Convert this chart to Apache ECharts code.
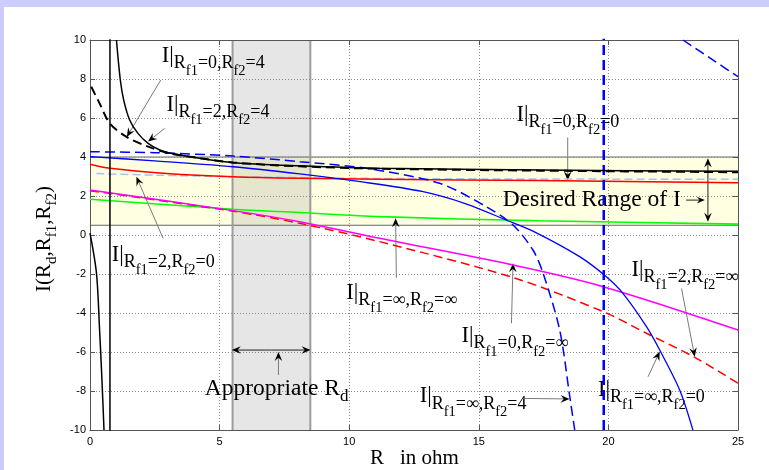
<!DOCTYPE html>
<html><head><meta charset="utf-8">
<script src="https://cdn.jsdelivr.net/npm/echarts@6/dist/echarts.min.js"></script>
<style>html,body{margin:0;padding:0;background:#fff;}#c{width:769px;height:470px;}</style>
</head><body><div id="c"></div>
<script>
// ---------------- data ----------------
const xTickValues = [0, 5, 10, 15, 20, 25];
const yTickValues = [-10, -8, -6, -4, -2, 0, 2, 4, 6, 8, 10];
const desiredRangeI = [0.5, 4];
const appropriateRd = [5.5, 8.5];

// I | Rf1=2, Rf2=4 (black solid) - three pieces around the pole
const iRf1_2_Rf2_4_left = [[0,0.1],[0.25,-1.96],[0.37,-4.87],[0.46,-7.4],[0.54,-10]];
const iRf1_2_Rf2_4_pole = [[0.77,-60],[0.77,60]];
const iRf1_2_Rf2_4_right = [[1.02,10],[1.17,7.95],[1.3,6.92],[1.53,5.9],[1.85,5.21],[2.24,4.7],[2.69,4.36],[3.07,4.2],[4.23,3.93],[5.52,3.71],[8.09,3.55],[11.17,3.42],[17.35,3.33],[25,3.27]];
// I | Rf1=0, Rf2=4 (black dashed)
const iRf1_0_Rf2_4 = [[0.05,7.6],[0.37,6.75],[0.76,5.73],[1.4,5.04],[2.24,4.53],[3.07,4.19],[4.2,3.95],[5.52,3.72],[8.09,3.52],[11.17,3.4],[17.35,3.3],[25,3.22]];
// I | Rf1=inf, Rf2=4 (blue dashed) - pieces around the pole
const iRf1_inf_Rf2_4_left = [[0,4.27],[2.5,4.22],[5.52,4.05],[8.09,3.76],[10.66,3.42],[13.49,2.65],[15.29,1.45],[16.32,0.51],[17.09,-0.77],[17.48,-1.96],[18.12,-4.87],[18.51,-8.29],[18.7,-10]];
const iRf1_inf_Rf2_4_pole = [[19.82,-60],[19.82,60]];
const iRf1_inf_Rf2_4_right = [[22.88,10],[24.04,8.97],[25,8.12]];
// I | Rf1=inf, Rf2=0 (blue solid)
const iRf1_inf_Rf2_0 = [[0,4.02],[2.5,3.8],[5.52,3.5],[8.09,3.13],[10.5,2.72],[12.85,2.22],[14.5,1.6],[16.06,0.77],[17.09,0.2],[18.89,-1.11],[19.92,-2.14],[20.56,-2.99],[21.47,-4.7],[21.98,-5.9],[22.75,-7.95],[23.26,-10]];
// I | Rf1=2, Rf2=0 (red solid)
const iRf1_2_Rf2_0 = [[0,3.63],[0.76,3.42],[2.95,3.16],[5.52,2.99],[8.09,2.91],[11.17,2.86],[17.35,2.79],[25,2.68]];
// I | Rf1=0, Rf2=0 (light blue dashed)
const iRf1_0_Rf2_0 = [[0.25,3.15],[2.5,3.07],[5.52,2.99],[11.17,2.9],[17.35,2.87],[25,2.86]];
// I | Rf1=inf, Rf2=inf (green)
const iRf1_inf_Rf2_inf = [[0,1.83],[5.52,1.32],[8.09,1.15],[11.17,0.94],[17.35,0.73],[25,0.56]];
// I | Rf1=0, Rf2=inf (magenta)
const iRf1_0_Rf2_inf = [[0,2.31],[5.52,1.25],[8.09,0.68],[11.17,-0.17],[16.32,-1.54],[19.8,-2.65],[25,-4.87]];
// I | Rf1=2, Rf2=inf (red dashed)
const iRf1_2_Rf2_inf = [[0,2.27],[5.52,1.22],[8.09,0.6],[11.17,-0.34],[16.32,-2.18],[19.8,-3.93],[21.47,-5.04],[23.3,-6.25],[25,-7.6]];

// ---------------- chart ----------------
const chart = echarts.init(document.getElementById('c'), null, {renderer:'canvas'});
const SERIF = "'Liberation Serif','Times New Roman',serif";
const SANS = "'Liberation Sans',Arial,sans-serif";
const xMin = xTickValues[0], xMax = xTickValues[xTickValues.length-1];
const yMin = yTickValues[0], yMax = yTickValues[yTickValues.length-1];

function ln(data, color, width, type, smooth, z) {
  return {type:'line', data, symbol:'none', showSymbol:false, smooth: smooth ? 0.3 : false,
    silent:true, clip:true, z: z || 2, lineStyle:{color, width, type: type || 'solid'}, itemStyle:{color}};
}
const dash = [9,5];
const axisCommon = {type:'value', axisLine:{show:true, onZero:false, lineStyle:{color:'#555', width:1}},
  axisTick:{show:true, inside:true, length:5, lineStyle:{color:'#555'}}};

chart.setOption({
  animation:false,
  backgroundColor:'#fff',
  grid:{left:90, right:31, top:40, bottom:40, containLabel:false},
  xAxis:[
    Object.assign({}, axisCommon, {min:xMin, max:xMax, interval:5, position:'bottom',
      axisLabel:{color:'#000', fontSize:11, fontFamily:SANS, margin:6},
      splitLine:{show:true, lineStyle:{color:'#8a8a8a', type:[1,2], width:1}}}),
    Object.assign({}, axisCommon, {min:xMin, max:xMax, interval:5, position:'top',
      axisLabel:{show:false}, splitLine:{show:false}})
  ],
  yAxis:[
    Object.assign({}, axisCommon, {min:yMin, max:yMax, interval:2, position:'left',
      axisLabel:{color:'#000', fontSize:11, fontFamily:SANS, margin:4},
      splitLine:{show:true, lineStyle:{color:'#8a8a8a', type:[1,2], width:1}}}),
    Object.assign({}, axisCommon, {min:yMin, max:yMax, interval:2, position:'right',
      axisLabel:{show:false}, splitLine:{show:false}})
  ],
  series:[
    {type:'custom', z:-1, silent:true, clip:false, data:[[xMin, yMin]],
      renderItem:(params, api) => {
        const a = api.coord([xMin, desiredRangeI[1]]), b = api.coord([xMax, desiredRangeI[0]]);
        const c = api.coord([appropriateRd[0], yMax]), d = api.coord([appropriateRd[1], yMin]);
        return {type:'group', children:[
          {type:'rect', shape:{x:a[0], y:a[1], width:b[0]-a[0], height:b[1]-a[1]}, style:{fill:'#FFFFE2'}},
          {type:'rect', shape:{x:c[0], y:c[1], width:d[0]-c[0], height:d[1]-c[1]}, style:{fill:'rgba(128,128,128,0.2)'}},
          {type:'line', shape:{x1:a[0], y1:a[1], x2:b[0], y2:a[1]}, style:{stroke:'#666', lineWidth:1}},
          {type:'line', shape:{x1:a[0], y1:b[1], x2:b[0], y2:b[1]}, style:{stroke:'#666', lineWidth:1}},
          {type:'line', shape:{x1:c[0], y1:c[1], x2:c[0], y2:d[1]}, style:{stroke:'#9c9c9c', lineWidth:2}},
          {type:'line', shape:{x1:d[0], y1:c[1], x2:d[0], y2:d[1]}, style:{stroke:'#9c9c9c', lineWidth:2}}
        ]};
      }},
    ln(iRf1_0_Rf2_0, '#A9C2F0', 1.5, [8,4], true),
    ln(iRf1_2_Rf2_0, '#FF0000', 1.5, 'solid', true),
    ln(iRf1_inf_Rf2_inf, '#00FF00', 1.6, 'solid', true),
    ln(iRf1_2_Rf2_inf, '#FF0000', 1.5, dash, true),
    ln(iRf1_0_Rf2_inf, '#FF00FF', 1.5, 'solid', true),
    ln(iRf1_inf_Rf2_0, '#0000FF', 1.3, 'solid', true),
    ln(iRf1_inf_Rf2_4_left, '#0000FF', 1.5, [10,5], true),
    ln(iRf1_inf_Rf2_4_pole, '#0000FF', 2.5, [10,5], false),
    ln(iRf1_inf_Rf2_4_right, '#0000FF', 1.5, [10,5], true),
    ln(iRf1_0_Rf2_4, '#000000', 2, [9,5], true, 3),
    ln(iRf1_2_Rf2_4_left, '#000000', 1.5, 'solid', true, 3),
    ln(iRf1_2_Rf2_4_pole, '#000000', 1.5, 'solid', false, 3),
    ln(iRf1_2_Rf2_4_right, '#000000', 1.5, 'solid', true, 3)
  ]
});

// ---------------- annotations ----------------
const mctx = document.createElement('canvas').getContext('2d');
function tw(t, size) { mctx.font = size + 'px ' + SERIF; return mctx.measureText(t).width; }
const LV_SIZE = [22.5, 18, 14.5], LV_DY = [0, 6, 13];
function richText(segs, x, y, rotation) {
  let cx = 0; const children = [];
  segs.forEach(([t, lv, sz, dyx]) => {
    const size = sz || LV_SIZE[lv], dy = (dyx !== undefined ? dyx : LV_DY[lv]);
    children.push({type:'text', x:cx, y:dy - 0.305*size, silent:true,
      style:{text:t, font: size + 'px ' + SERIF, fill:'#000', align:'left', verticalAlign:'middle'}});
    cx += tw(t, size);
  });
  return {type:'group', x, y, rotation: rotation || 0, silent:true, children};
}
function iLabel(a, b) {
  return [['I|',0],['R',1],['f1',2],['=' + a + ',',1],['R',1],['f2',2],['=' + b,1]];
}
function px(p) { return chart.convertToPixel({gridIndex:0}, p); }
function arrow(fromD, toD, lineColor, headSize) {
  const f = px(fromD), t = px(toD);
  const dx = t[0]-f[0], dy = t[1]-f[1], L = Math.hypot(dx, dy), ux = dx/L, uy = dy/L, nx = -uy, ny = ux;
  const s = headSize || 9, w = s*0.42, notch = s*0.65;
  const back = [t[0]-ux*s, t[1]-uy*s];
  return [
    {type:'line', silent:true, shape:{x1:f[0], y1:f[1], x2:t[0]-ux*notch, y2:t[1]-uy*notch}, style:{stroke: lineColor || '#7a7a7a', lineWidth:1}},
    {type:'polygon', silent:true, shape:{points:[[t[0],t[1]],[back[0]+nx*w, back[1]+ny*w],[t[0]-ux*notch, t[1]-uy*notch],[back[0]-nx*w, back[1]-ny*w]]}, style:{fill:'#000'}}
  ];
}
function dblArrow(aD, bD) {
  const mid = [(aD[0]+bD[0])/2, (aD[1]+bD[1])/2];
  return arrow(mid, aD, '#222', 9).concat(arrow(mid, bD, '#222', 9));
}

const g = [];
g.push({type:'rect', shape:{x:0, y:0, width:769, height:7}, style:{fill:'#CCCCFF'}, silent:true});
g.push({type:'rect', shape:{x:0, y:0, width:4, height:470}, style:{fill:'#CCCCFF'}, silent:true});

const labels = [
  {segs: iLabel('0','4'), pos:[2.77, 8.82]},
  {segs: iLabel('2','4'), pos:[2.95, 6.31]},
  {segs: iLabel('0','0'), pos:[16.45, 5.81]},
  {segs: iLabel('2','0'), pos:[0.84, -1.38]},
  {segs: iLabel('∞','∞'), pos:[9.89, -3.33]},
  {segs: iLabel('0','∞'), pos:[14.33, -5.55]},
  {segs: iLabel('2','∞'), pos:[20.89, -2.14]},
  {segs: iLabel('∞','0'), pos:[19.6, -8.29]},
  {segs: iLabel('∞','4'), pos:[12.72, -8.63]},
  {segs: [['Desired Range of I',0,23.5,0]], pos:[15.92, 1.42]},
  {segs: [['Appropriate R',0,23.5,0],['d',1,17,6]], pos:[4.43, -8.24]}
];
labels.forEach(l => { const p = px(l.pos); g.push(richText(l.segs, p[0], p[1], 0)); });

const arrows = [
  [[2.73,7.95],[1.42,5.03]],
  [[2.88,5.47],[2.24,4.79]],
  [[18.43,5.0],[18.43,2.8]],
  [[2.82,-0.17],[1.79,2.99]],
  [[11.82,-2.2],[11.79,0.86]],
  [[16.26,-4.53],[16.32,-1.45]],
  [[22.82,-2.74],[23.33,-6.24]],
  [[21.53,-7.27],[21.98,-5.98]],
  [[16.71,-8.38],[18.5,-8.41]],
  [[7.27,-7.18],[7.27,-6.0]]
];
arrows.forEach(a => arrow(a[0], a[1]).forEach(e => g.push(e)));
arrow([23.0,1.79],[23.72,1.79],'#222',8).forEach(e => g.push(e));
dblArrow([23.84,3.93],[23.84,0.68]).forEach(e => g.push(e));
dblArrow([5.47,-5.9],[8.51,-5.9]).forEach(e => g.push(e));

// axis titles
g.push(richText([['I(R',0,21,0],['d',1,15,6],[',R',0,21,0],['f1',1,15,6],[',R',0,21,0],['f2',1,15,6],[')',0,21,0]], 51, 292, Math.PI/2));
g.push(richText([['R',0,21,0]], 370, 465, 0));
g.push(richText([['in ohm',0,21,0]], 400, 465, 0));

chart.setOption({graphic: g});
</script>
</body></html>
